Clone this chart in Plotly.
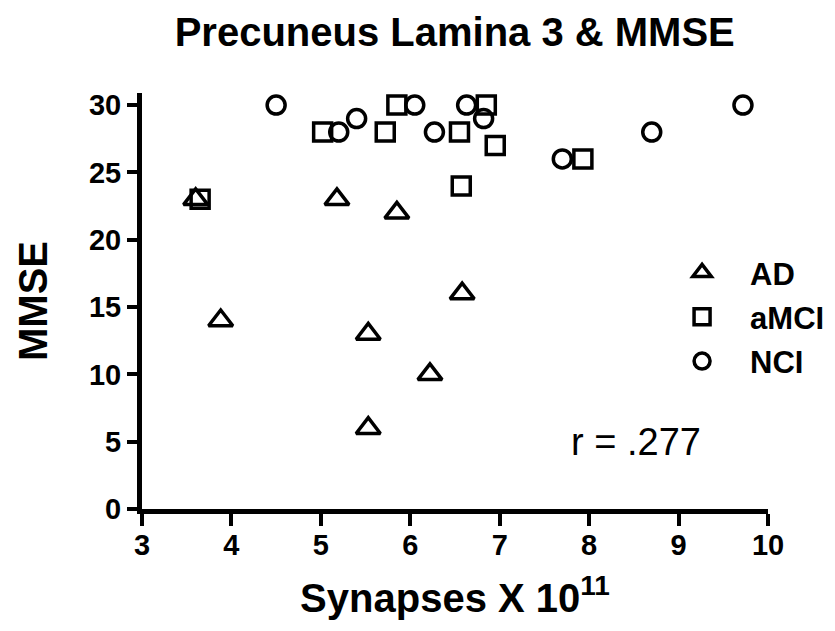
import plotly.graph_objects as go

# AD group
ad_x = [3.60, 3.88, 5.18, 5.53, 5.53, 5.85, 6.22, 6.58]
ad_y = [23, 14, 23, 13, 6, 22, 10, 16]
# aMCI group
amci_x = [3.65, 5.02, 5.72, 5.85, 6.55, 6.57, 6.85, 6.95, 7.93]
amci_y = [23, 28, 28, 30, 28, 24, 30, 27, 26]
# NCI group
nci_x = [4.50, 5.20, 5.40, 6.05, 6.27, 6.63, 6.82, 7.70, 8.70, 9.72]
nci_y = [30, 28, 29, 30, 28, 30, 29, 26, 28, 30]

x_ticks = [3, 4, 5, 6, 7, 8, 9, 10]
y_ticks = [0, 5, 10, 15, 20, 25, 30]

FONT = "Liberation Sans, Arial, sans-serif"

fig = go.Figure()
groups = [
    ("AD", ad_x, ad_y, "triangle-up-open", 21),
    ("aMCI", amci_x, amci_y, "square-open", 18),
    ("NCI", nci_x, nci_y, "circle-open", 18),
]
for name, xs, ys, sym, sz in groups:
    fig.add_trace(go.Scatter(
        x=xs, y=ys, mode="markers", name=f"<b>{name}</b>", legendgroup=name,
        marker=dict(symbol=sym, size=sz, color="black",
                    line=dict(color="black", width=3.5)),
    ))

fig.add_annotation(x=8.52, y=5, xref="x", yref="y", text="r = .277",
                   showarrow=False, font=dict(family=FONT, size=38, color="black"))

fig.update_layout(
    width=835, height=631,
    margin=dict(l=134, r=75, t=85, b=130),
    paper_bgcolor="white", plot_bgcolor="white",
    title=dict(text="<b>Precuneus Lamina 3 & MMSE</b>", x=0.535, xanchor="center",
               y=0.962, yanchor="middle",
               font=dict(family=FONT, size=40, color="black")),
    font=dict(family=FONT, color="black"),
    showlegend=True,
    legend=dict(x=0.818, y=0.462, xanchor="left", yanchor="middle",
                traceorder="grouped", tracegroupgap=1, itemwidth=86,
                font=dict(family=FONT, size=31, color="black"),
                bgcolor="rgba(0,0,0,0)"),
    xaxis=dict(range=[3, 10], tickvals=x_ticks,
               ticktext=[f"<b>{v}</b>" for v in x_ticks],
               showgrid=False, zeroline=False, showline=True,
               linecolor="black", linewidth=5, automargin=False,
               ticks="outside", ticklen=12, tickwidth=4, tickcolor="black",
               ticklabelstandoff=-6,
               tickfont=dict(family=FONT, size=29, color="black"),
               title=dict(text="<b>Synapses X 10<sup>11</sup></b>",
                          font=dict(family=FONT, size=40, color="black"),
                          standoff=26)),
    yaxis=dict(range=[0, 30.9], tickvals=y_ticks,
               ticktext=[f"<b>{v}</b>" for v in y_ticks],
               showgrid=False, zeroline=False, showline=True,
               linecolor="black", linewidth=5, automargin=False,
               ticks="outside", ticklen=10, tickwidth=4, tickcolor="black",
               tickfont=dict(family=FONT, size=29, color="black"),
               title=dict(text="<b>MMSE</b>",
                          font=dict(family=FONT, size=40, color="black"),
                          standoff=30)),
)

fig.write_html("out.html")
